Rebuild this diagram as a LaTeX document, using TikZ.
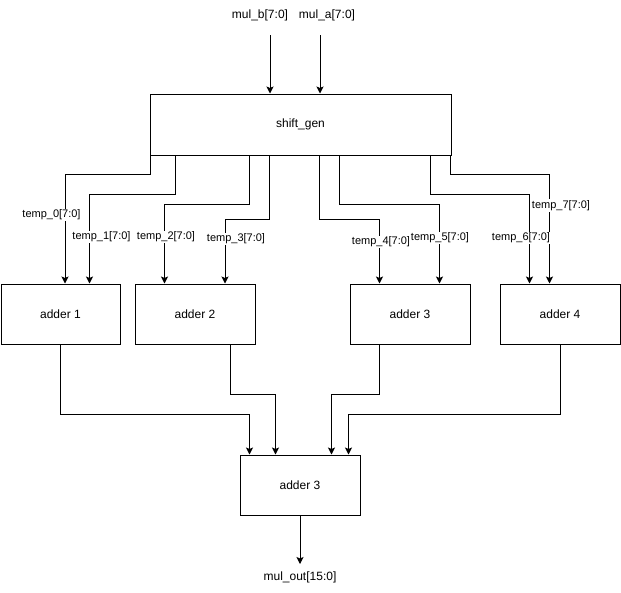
\documentclass[tikz,border=0pt]{standalone}
\usepackage{fontspec}
\setmainfont{Liberation Sans}
\usetikzlibrary{arrows.meta}
\begin{document}
\begin{tikzpicture}[x=1pt,y=-1pt,
  box/.style={draw, line width=1pt, inner sep=0pt, font=\fontsize{12}{14}\selectfont},
  arr/.style={line width=1pt, -{Stealth[length=7pt,width=7pt,inset=1.5pt]}},
  lbl/.style={fill=white, inner sep=1pt, font=\fontsize{11}{13}\selectfont},
  ext/.style={inner sep=1pt, font=\fontsize{12}{14}\selectfont}]
\useasboundingbox (0,0) rectangle (621,592);
% blocks
\node[box, minimum width=301pt, minimum height=61pt] (sg) at (300.5,124.5) {shift\_gen};
\node[box, minimum width=119pt, minimum height=60pt] (a1) at (60.5,314) {adder 1};
\node[box, minimum width=120pt, minimum height=60pt] (a2) at (195,314) {adder 2};
\node[box, minimum width=120pt, minimum height=60pt] (a3) at (410,314) {adder 3};
\node[box, minimum width=120pt, minimum height=60pt] (a4) at (560,314) {adder 4};
\node[box, minimum width=120pt, minimum height=60pt] (ab) at (300,485) {adder 3};
% external labels
\node[ext] (mb) at (260,15) {mul\_b[7:0]};
\node[ext] (ma) at (327,15) {mul\_a[7:0]};
\node[ext] (mo) at (300,577) {mul\_out[15:0]};
\coordinate (inb) at (270,35);
\coordinate (ina) at (320,35);
\coordinate (oend) at (300,564);
% inputs
\draw[arr] (inb) -- (inb |- sg.north);
\draw[arr] (ina) -- (ina |- sg.north);
% shift_gen to adders
\draw[arr] ([xshift=1pt]sg.south west) -- ++(0,19) -| ([xshift=64.5pt]a1.north west);
\draw[arr] ([xshift=26pt]sg.south west) -- ++(0,39) -| ([xshift=89pt]a1.north west);
\draw[arr] ([xshift=100pt]sg.south west) -- ++(0,49) -| ([xshift=30pt]a2.north west);
\draw[arr] ([xshift=120pt]sg.south west) -- ++(0,64) -| ([xshift=90.5pt]a2.north west);
\draw[arr] ([xshift=170pt]sg.south west) -- ++(0,64) -| ([xshift=30pt]a3.north west);
\draw[arr] ([xshift=190pt]sg.south west) -- ++(0,49) -| ([xshift=90pt]a3.north west);
\draw[arr] ([xshift=281pt]sg.south west) -- ++(0,39) -| ([xshift=30pt]a4.north west);
\draw[arr] ([xshift=301pt]sg.south west) -- ++(0,19) -| ([xshift=50pt]a4.north west);
% edge labels
\node[lbl] (l0) at (51.5,215) {temp\_0[7:0]};
\node[lbl] (l1) at (101.5,237) {temp\_1[7:0]};
\node[lbl] (l2) at (166,237) {temp\_2[7:0]};
\node[lbl] (l3) at (236,239) {temp\_3[7:0]};
\node[lbl] (l4) at (381,242) {temp\_4[7:0]};
\node[lbl] (l5) at (440,238) {temp\_5[7:0]};
\node[lbl] (l6) at (521,238) {temp\_6[7:0]};
\node[lbl] (l7) at (561,205.5) {temp\_7[7:0]};
% adders to final adder
\draw[arr] (a1.south) -- ++(0,70) -| ([xshift=10pt]ab.north west);
\draw[arr] ([xshift=-25pt]a2.south east) -- ++(0,50) -| ([xshift=36pt]ab.north west);
\draw[arr] ([xshift=30pt]a3.south west) -- ++(0,50) -| ([xshift=-29pt]ab.north east);
\draw[arr] (a4.south) -- ++(0,70) -| ([xshift=-12pt]ab.north east);
% output
\draw[arr] (ab.south) -- (oend);
\end{tikzpicture}
\end{document}
